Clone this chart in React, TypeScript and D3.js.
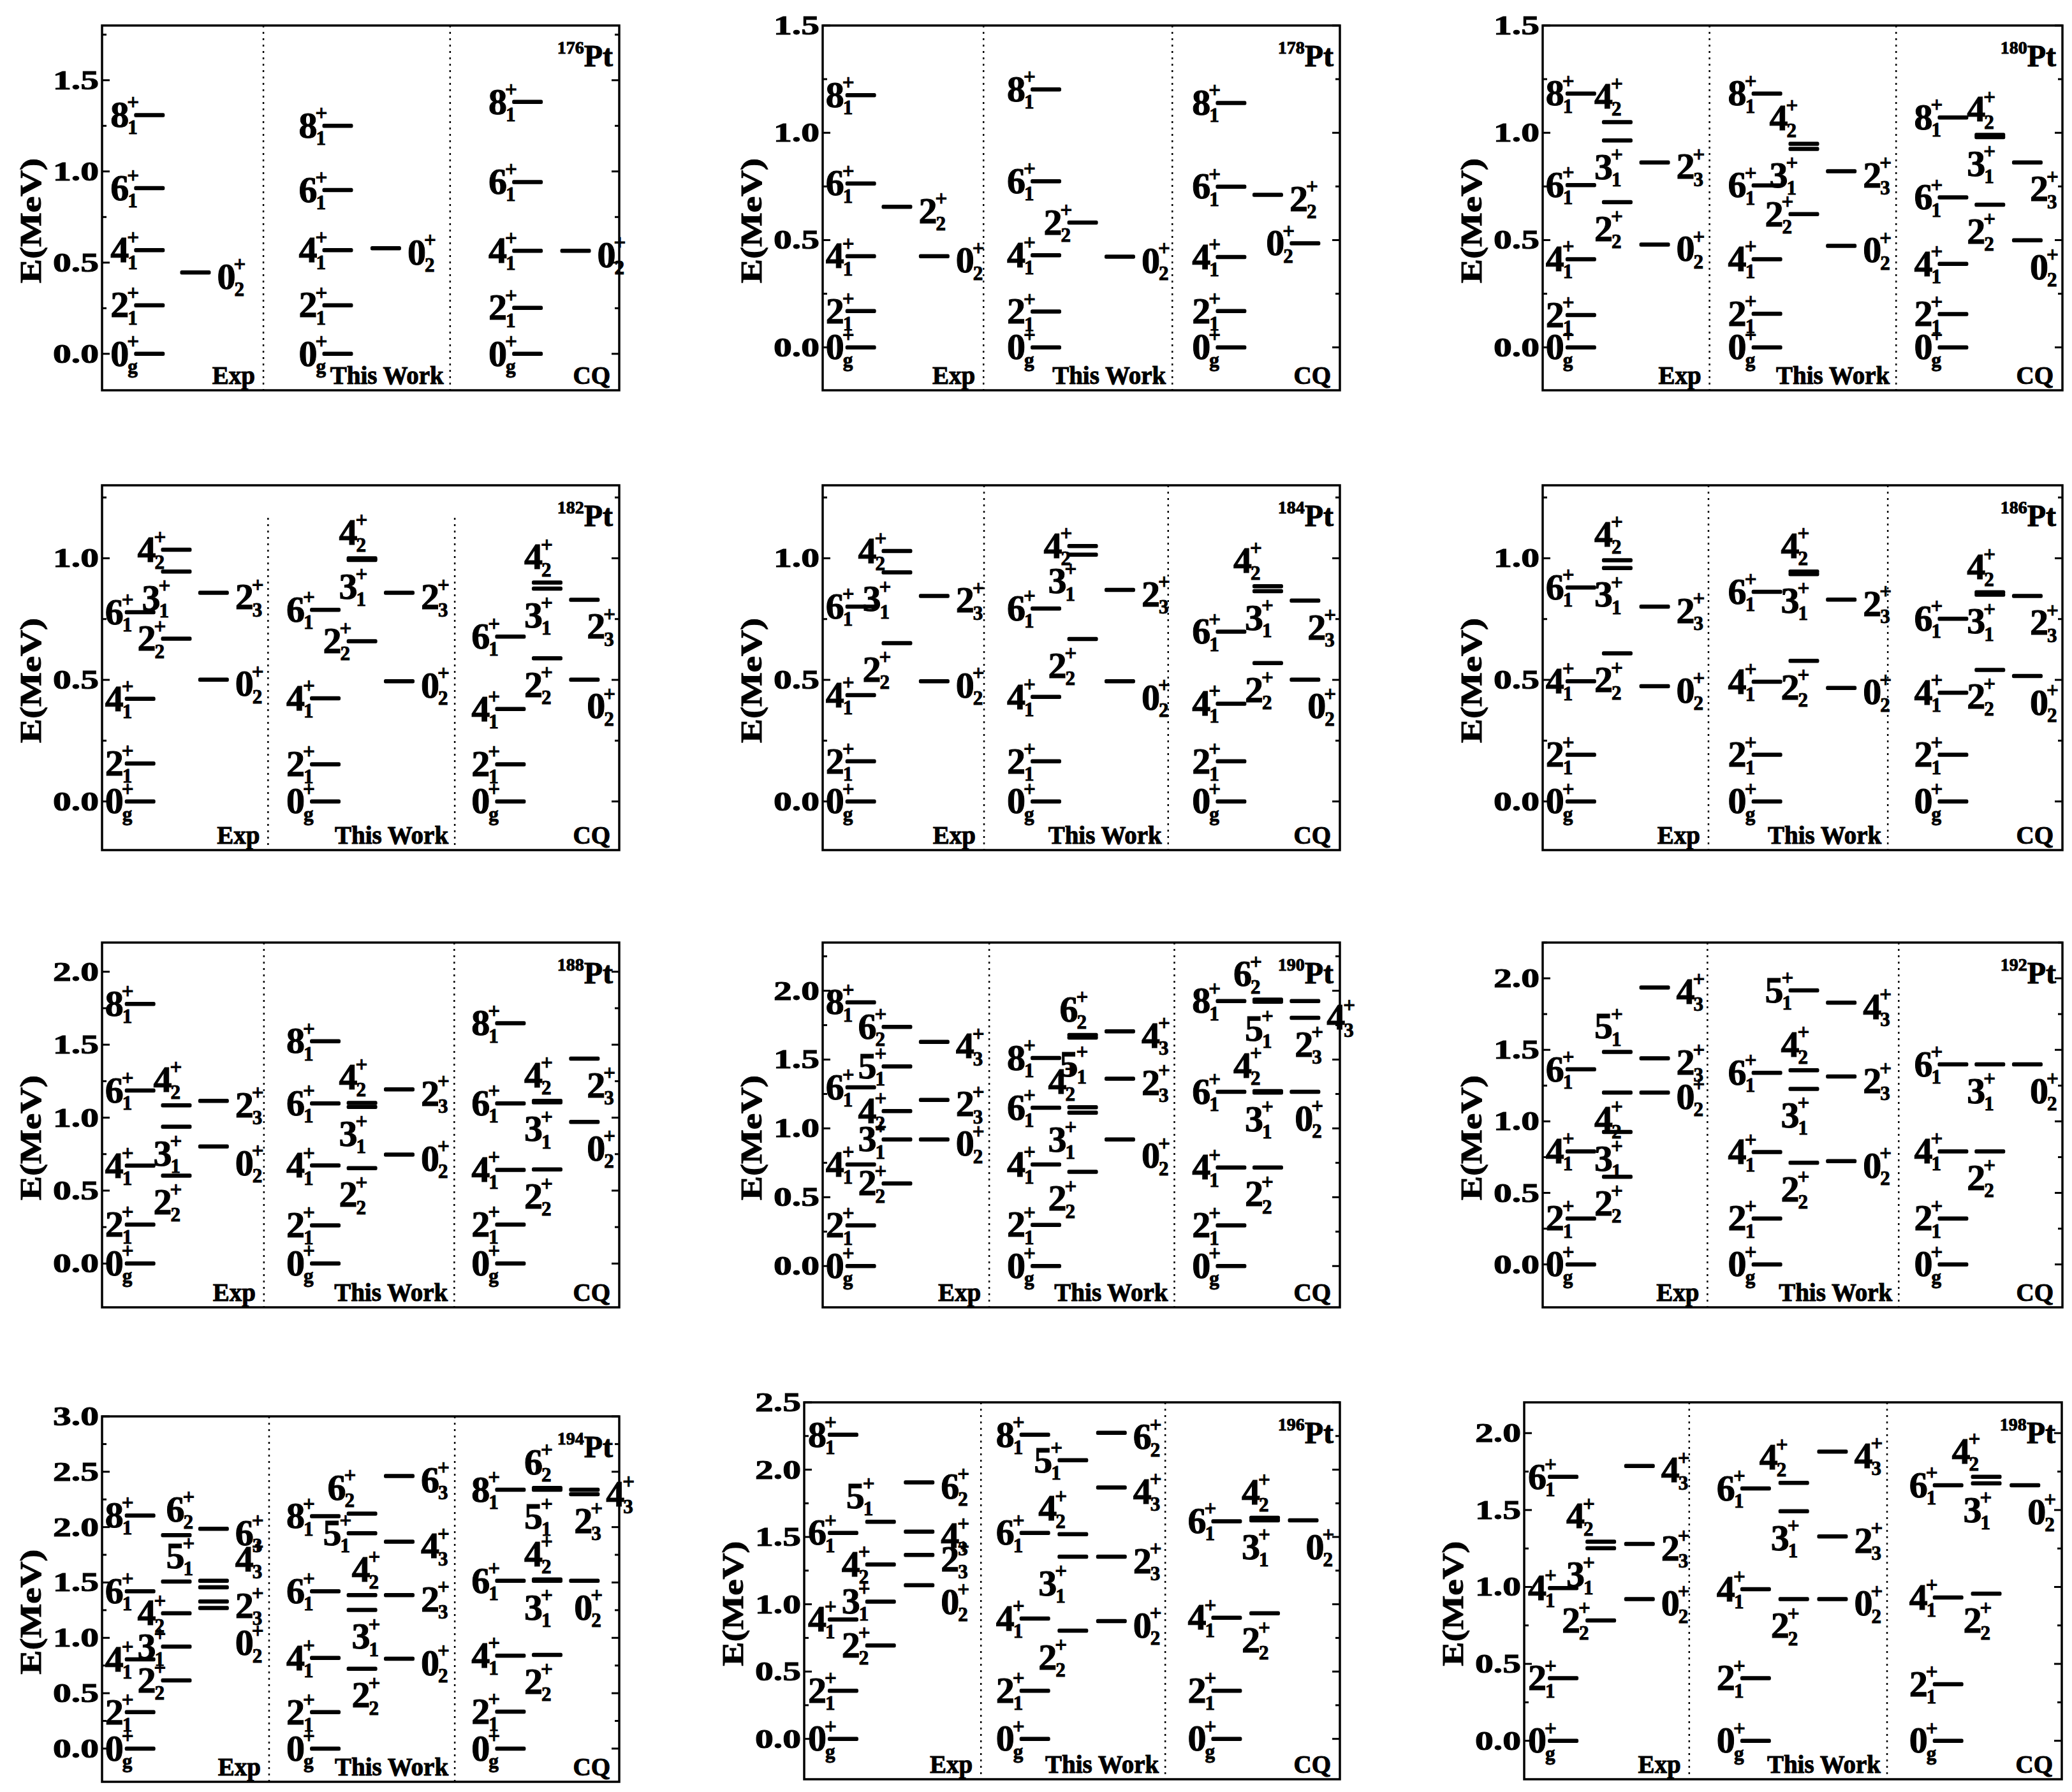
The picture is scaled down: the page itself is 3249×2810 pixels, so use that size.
import React from 'react';
import * as d3 from 'd3';

// [slot (section*3 + column), energy (MeV), J, subscript, label placement]
type Level = [number, number, string, string, string];

const NUCLEI = ['176', '178', '180', '182', '184', '186', '188', '190', '192', '194', '196', '198'];
const SECTIONS = ['Exp', 'This Work', 'CQ'];
const Y_DOMAINS: [number, number][] = [
  [-0.2, 1.8], [-0.2, 1.5], [-0.2, 1.5],
  [-0.2, 1.3], [-0.2, 1.3], [-0.2, 1.3],
  [-0.3, 2.2], [-0.3, 2.35], [-0.3, 2.25],
  [-0.3, 3.0], [-0.3, 2.5], [-0.25, 2.2],
];
const DIVIDERS: [number, number][] = [
  [0.312, 0.673], [0.311, 0.676], [0.321, 0.68],
  [0.321, 0.682], [0.312, 0.668], [0.319, 0.664],
  [0.313, 0.681], [0.322, 0.68], [0.317, 0.685],
  [0.323, 0.682], [0.33, 0.674], [0.307, 0.675],
];
const SLOTS = [0.044, 0.114, 0.186, 0.402, 0.473, 0.545, 0.76, 0.831, 0.903];
const SLOTS_176 = [0.062, 0.11, 0.151, 0.426, 0.47, 0.519, 0.793, 0.84, 0.886];

const PT176: Level[] = [
  [0, 0, '0', 'g', 'L'], [0, 0.266, '2', '1', 'L'], [0, 0.568, '4', '1', 'L'], [0, 0.908, '6', '1', 'L'], [0, 1.309, '8', '1', 'L'], [2, 0.446, '0', '2', 'R'],
  [3, 0, '0', 'g', 'L'], [3, 0.266, '2', '1', 'L'], [3, 0.568, '4', '1', 'L'], [3, 0.898, '6', '1', 'L'], [3, 1.25, '8', '1', 'L'], [5, 0.579, '0', '2', 'R'],
  [6, 0, '0', 'g', 'L'], [6, 0.252, '2', '1', 'L'], [6, 0.565, '4', '1', 'L'], [6, 0.942, '6', '1', 'L'], [6, 1.381, '8', '1', 'L'], [8, 0.565, '0', '2', 'R'],
];
const PT178: Level[] = [
  [0, 0, '0', 'g', 'L'], [0, 0.169, '2', '1', 'L'], [0, 0.425, '4', '1', 'L'], [0, 0.764, '6', '1', 'L'], [0, 1.175, '8', '1', 'L'], [1, 0.655, '2', '2', 'R'], [2, 0.425, '0', '2', 'R'],
  [3, 0, '0', 'g', 'L'], [3, 0.167, '2', '1', 'L'], [3, 0.429, '4', '1', 'L'], [3, 0.774, '6', '1', 'L'], [3, 1.202, '8', '1', 'L'], [4, 0.582, '2', '2', 'L'], [5, 0.423, '0', '2', 'R'],
  [6, 0, '0', 'g', 'L'], [6, 0.169, '2', '1', 'L'], [6, 0.421, '4', '1', 'L'], [6, 0.749, '6', '1', 'L'], [6, 1.139, '8', '1', 'L'], [7, 0.711, '2', '2', 'R'], [8, 0.485, '0', '2', 'L'],
];
const PT180: Level[] = [
  [0, 0, '0', 'g', 'L'], [0, 0.151, '2', '1', 'L'], [0, 0.411, '4', '1', 'L'], [0, 0.756, '6', '1', 'L'], [0, 1.183, '8', '1', 'L'],
  [1, 1.05, '4', '2', 'A'], [1, 0.964, '3', '1', 'B'], [1, 0.677, '2', '2', 'B'], [2, 0.862, '2', '3', 'R'], [2, 0.479, '0', '2', 'R'],
  [3, 0, '0', 'g', 'L'], [3, 0.157, '2', '1', 'L'], [3, 0.411, '4', '1', 'L'], [3, 0.755, '6', '1', 'L'], [3, 1.183, '8', '1', 'L'],
  [4, 0.949, '4', '2', 'A-'], [4, 0.925, '3', '1', 'B-'], [4, 0.621, '2', '2', 'L'], [5, 0.821, '2', '3', 'R'], [5, 0.473, '0', '2', 'R'],
  [6, 0, '0', 'g', 'L'], [6, 0.155, '2', '1', 'L'], [6, 0.389, '4', '1', 'L'], [6, 0.699, '6', '1', 'L'], [6, 1.071, '8', '1', 'L'],
  [7, 0.99, '4', '2', 'A'], [7, 0.98, '3', '1', 'B'], [7, 0.665, '2', '2', 'B'], [8, 0.862, '2', '3', 'B++'], [8, 0.499, '0', '2', 'B++'],
];
const PT182: Level[] = [
  [0, 0, '0', 'g', 'L'], [0, 0.156, '2', '1', 'L'], [0, 0.422, '4', '1', 'L'], [0, 0.778, '6', '1', 'L'],
  [1, 1.035, '4', '2', 'L'], [1, 0.945, '3', '1', 'B-'], [1, 0.669, '2', '2', 'L'], [2, 0.858, '2', '3', 'R'], [2, 0.501, '0', '2', 'R'],
  [3, 0, '0', 'g', 'L'], [3, 0.153, '2', '1', 'L'], [3, 0.424, '4', '1', 'L'], [3, 0.788, '6', '1', 'L'],
  [4, 1.0, '4', '2', 'A'], [4, 0.993, '3', '1', 'B'], [4, 0.659, '2', '2', 'L'], [5, 0.858, '2', '3', 'R'], [5, 0.494, '0', '2', 'R'],
  [6, 0, '0', 'g', 'L'], [6, 0.153, '2', '1', 'L'], [6, 0.38, '4', '1', 'L'], [6, 0.678, '6', '1', 'L'],
  [7, 0.9, '4', '2', 'A'], [7, 0.875, '3', '1', 'B'], [7, 0.589, '2', '2', 'B'], [8, 0.829, '2', '3', 'B++'], [8, 0.501, '0', '2', 'B++'],
];
const PT184: Level[] = [
  [0, 0, '0', 'g', 'L'], [0, 0.165, '2', '1', 'L'], [0, 0.437, '4', '1', 'L'], [0, 0.801, '6', '1', 'L'],
  [1, 1.03, '4', '2', 'L'], [1, 0.942, '3', '1', 'B-'], [1, 0.651, '2', '2', 'B-'], [2, 0.845, '2', '3', 'R'], [2, 0.494, '0', '2', 'R'],
  [3, 0, '0', 'g', 'L'], [3, 0.165, '2', '1', 'L'], [3, 0.43, '4', '1', 'L'], [3, 0.793, '6', '1', 'L'],
  [4, 1.05, '4', '2', 'L'], [4, 1.015, '3', '1', 'B-'], [4, 0.668, '2', '2', 'B-'], [5, 0.87, '2', '3', 'R'], [5, 0.494, '0', '2', 'RD'],
  [6, 0, '0', 'g', 'L'], [6, 0.165, '2', '1', 'L'], [6, 0.402, '4', '1', 'L'], [6, 0.698, '6', '1', 'L'],
  [7, 0.885, '4', '2', 'A-'], [7, 0.865, '3', '1', 'B'], [7, 0.569, '2', '2', 'B'], [8, 0.826, '2', '3', 'B++'], [8, 0.501, '0', '2', 'B++'],
];
const PT186: Level[] = [
  [0, 0, '0', 'g', 'L'], [0, 0.192, '2', '1', 'L'], [0, 0.494, '4', '1', 'L'], [0, 0.88, '6', '1', 'L'],
  [1, 0.992, '4', '2', 'A'], [1, 0.96, '3', '1', 'B'], [1, 0.609, '2', '2', 'B'], [2, 0.801, '2', '3', 'R'], [2, 0.474, '0', '2', 'R'],
  [3, 0, '0', 'g', 'L'], [3, 0.192, '2', '1', 'L'], [3, 0.492, '4', '1', 'L'], [3, 0.862, '6', '1', 'L'],
  [4, 0.945, '4', '2', 'A'], [4, 0.935, '3', '1', 'B'], [4, 0.578, '2', '2', 'B'], [5, 0.83, '2', '3', 'R'], [5, 0.467, '0', '2', 'R'],
  [6, 0, '0', 'g', 'L'], [6, 0.192, '2', '1', 'L'], [6, 0.447, '4', '1', 'L'], [6, 0.751, '6', '1', 'L'],
  [7, 0.86, '4', '2', 'A'], [7, 0.85, '3', '1', 'B'], [7, 0.541, '2', '2', 'B'], [8, 0.845, '2', '3', 'B++'], [8, 0.516, '0', '2', 'B++'],
];
const PT188: Level[] = [
  [0, 0, '0', 'g', 'L'], [0, 0.267, '2', '1', 'L'], [0, 0.671, '4', '1', 'L'], [0, 1.186, '6', '1', 'L'], [0, 1.779, '8', '1', 'L'],
  [1, 1.084, '4', '2', 'A'], [1, 0.938, '3', '1', 'B'], [1, 0.603, '2', '2', 'B'], [2, 1.115, '2', '3', 'R'], [2, 0.802, '0', '2', 'RD'],
  [3, 0, '0', 'g', 'L'], [3, 0.262, '2', '1', 'L'], [3, 0.672, '4', '1', 'L'], [3, 1.098, '6', '1', 'L'], [3, 1.524, '8', '1', 'L'],
  [4, 1.101, '4', '2', 'A'], [4, 1.073, '3', '1', 'B'], [4, 0.654, '2', '2', 'B'], [5, 1.194, '2', '3', 'R'], [5, 0.747, '0', '2', 'R'],
  [6, 0, '0', 'g', 'L'], [6, 0.267, '2', '1', 'L'], [6, 0.642, '4', '1', 'L'], [6, 1.098, '6', '1', 'L'], [6, 1.647, '8', '1', 'L'],
  [7, 1.115, '4', '2', 'A'], [7, 1.105, '3', '1', 'B'], [7, 0.645, '2', '2', 'B'], [8, 1.405, '2', '3', 'B++'], [8, 0.971, '0', '2', 'B++'],
];
const PT190: Level[] = [
  [0, 0, '0', 'g', 'L'], [0, 0.295, '2', '1', 'L'], [0, 0.738, '4', '1', 'L'], [0, 1.298, '6', '1', 'L'], [0, 1.916, '8', '1', 'L'],
  [1, 1.737, '6', '2', 'L'], [1, 1.45, '5', '1', 'L'], [1, 1.126, '4', '2', 'L'], [1, 0.92, '3', '1', 'L'], [1, 0.6, '2', '2', 'L'],
  [2, 1.629, '4', '3', 'R'], [2, 1.207, '2', '3', 'R'], [2, 0.92, '0', '2', 'R'],
  [3, 0, '0', 'g', 'L'], [3, 0.299, '2', '1', 'L'], [3, 0.738, '4', '1', 'L'], [3, 1.15, '6', '1', 'L'], [3, 1.511, '8', '1', 'L'],
  [4, 1.678, '6', '2', 'A'], [4, 1.66, '5', '1', 'B'], [4, 1.153, '4', '2', 'A-'], [4, 1.114, '3', '1', 'B-'], [4, 0.684, '2', '2', 'B-'],
  [5, 1.705, '4', '3', 'R'], [5, 1.361, '2', '3', 'R'], [5, 0.92, '0', '2', 'RD'],
  [6, 0, '0', 'g', 'L'], [6, 0.295, '2', '1', 'L'], [6, 0.716, '4', '1', 'L'], [6, 1.266, '6', '1', 'L'], [6, 1.925, '8', '1', 'L'],
  [7, 1.935, '6', '2', 'A-'], [7, 1.92, '5', '1', 'B'], [7, 1.27, '4', '2', 'A-'], [7, 1.26, '3', '1', 'B'], [7, 0.716, '2', '2', 'B'],
  [8, 1.925, '4', '3', 'RD'], [8, 1.803, '2', '3', 'B+'], [8, 1.266, '0', '2', 'B+'],
];
const PT192: Level[] = [
  [0, 0, '0', 'g', 'L'], [0, 0.321, '2', '1', 'L'], [0, 0.79, '4', '1', 'L'], [0, 1.364, '6', '1', 'L'],
  [1, 1.485, '5', '1', 'A'], [1, 1.201, '4', '2', 'B'], [1, 0.926, '3', '1', 'B'], [1, 0.613, '2', '2', 'B'],
  [2, 1.936, '4', '3', 'R'], [2, 1.441, '2', '3', 'R'], [2, 1.201, '0', '2', 'R'],
  [3, 0, '0', 'g', 'L'], [3, 0.321, '2', '1', 'L'], [3, 0.785, '4', '1', 'L'], [3, 1.34, '6', '1', 'L'],
  [4, 1.916, '5', '1', 'L'], [4, 1.357, '4', '2', 'A'], [4, 1.227, '3', '1', 'B'], [4, 0.711, '2', '2', 'B'],
  [5, 1.83, '4', '3', 'R'], [5, 1.314, '2', '3', 'R'], [5, 0.722, '0', '2', 'R'],
  [6, 0, '0', 'g', 'L'], [6, 0.321, '2', '1', 'L'], [6, 0.79, '4', '1', 'L'], [6, 1.399, '6', '1', 'L'],
  [7, 1.399, '3', '1', 'B'], [7, 0.79, '2', '2', 'B'], [8, 1.399, '0', '2', 'B++'],
];
const PT194: Level[] = [
  [0, 0, '0', 'g', 'L'], [0, 0.329, '2', '1', 'L'], [0, 0.806, '4', '1', 'L'], [0, 1.421, '6', '1', 'L'], [0, 2.105, '8', '1', 'L'],
  [1, 1.927, '6', '2', 'A+'], [1, 1.508, '5', '1', 'A+'], [1, 1.222, '4', '2', 'L'], [1, 0.921, '3', '1', 'L'], [1, 0.616, '2', '2', 'L'],
  [2, 1.985, '6', '3', 'R'], [2, 1.515, '4', '3', 'RU'], [2, 1.457, '', '', ''], [2, 1.328, '2', '3', 'R'], [2, 1.269, '0', '2', 'RDD'],
  [3, 0, '0', 'g', 'L'], [3, 0.329, '2', '1', 'L'], [3, 0.818, '4', '1', 'L'], [3, 1.421, '6', '1', 'L'], [3, 2.098, '8', '1', 'L'],
  [4, 2.122, '6', '2', 'A-'], [4, 1.945, '5', '1', 'L'], [4, 1.386, '4', '2', 'A+'], [4, 1.252, '3', '1', 'B+'], [4, 0.721, '2', '2', 'B+'],
  [5, 2.462, '6', '3', 'R'], [5, 1.868, '4', '3', 'R'], [5, 1.386, '2', '3', 'R'], [5, 0.811, '0', '2', 'R'],
  [6, 0, '0', 'g', 'L'], [6, 0.334, '2', '1', 'L'], [6, 0.839, '4', '1', 'L'], [6, 1.515, '6', '1', 'L'], [6, 2.338, '8', '1', 'L'],
  [7, 2.354, '6', '2', 'A'], [7, 2.338, '5', '1', 'B'], [7, 1.527, '4', '2', 'A'], [7, 1.515, '3', '1', 'B'], [7, 0.846, '2', '2', 'B'],
  [8, 2.338, '4', '3', 'R'], [8, 2.298, '2', '3', 'B+'], [8, 1.515, '0', '2', 'B+'],
];
const PT196: Level[] = [
  [0, 0, '0', 'g', 'L'], [0, 0.357, '2', '1', 'L'], [0, 0.887, '4', '1', 'L'], [0, 1.53, '6', '1', 'L'], [0, 2.259, '8', '1', 'L'],
  [1, 1.613, '5', '1', 'A-'], [1, 1.295, '4', '2', 'L'], [1, 1.02, '3', '1', 'L'], [1, 0.694, '2', '2', 'L'],
  [2, 1.906, '6', '2', 'R'], [2, 1.54, '4', '3', 'R'], [2, 1.367, '2', '3', 'R'], [2, 1.141, '0', '2', 'RD'],
  [3, 0, '0', 'g', 'L'], [3, 0.357, '2', '1', 'L'], [3, 0.894, '4', '1', 'L'], [3, 1.53, '6', '1', 'L'], [3, 2.259, '8', '1', 'L'],
  [4, 2.07, '5', '1', 'L'], [4, 1.521, '4', '2', 'A-'], [4, 1.353, '3', '1', 'B-'], [4, 0.804, '2', '2', 'B-'],
  [5, 2.274, '6', '2', 'R'], [5, 1.868, '4', '3', 'R'], [5, 1.353, '2', '3', 'R'], [5, 0.875, '0', '2', 'R'],
  [6, 0, '0', 'g', 'L'], [6, 0.357, '2', '1', 'L'], [6, 0.9, '4', '1', 'L'], [6, 1.617, '6', '1', 'L'],
  [7, 1.642, '4', '2', 'A'], [7, 1.623, '3', '1', 'B'], [7, 0.933, '2', '2', 'B'], [8, 1.623, '0', '2', 'B++'],
];
const PT198: Level[] = [
  [0, 0, '0', 'g', 'L'], [0, 0.407, '2', '1', 'L'], [0, 0.993, '4', '1', 'L'], [0, 1.716, '6', '1', 'L'],
  [1, 1.294, '4', '2', 'A-'], [1, 1.252, '3', '1', 'B-'], [1, 0.782, '2', '2', 'L'],
  [2, 1.787, '4', '3', 'R'], [2, 1.28, '2', '3', 'R'], [2, 0.921, '0', '2', 'R'],
  [3, 0, '0', 'g', 'L'], [3, 0.407, '2', '1', 'L'], [3, 0.985, '4', '1', 'L'], [3, 1.64, '6', '1', 'L'],
  [4, 1.677, '4', '2', 'A-'], [4, 1.492, '3', '1', 'B'], [4, 0.921, '2', '2', 'B'],
  [5, 1.88, '4', '3', 'R'], [5, 1.328, '2', '3', 'R'], [5, 0.921, '0', '2', 'R'],
  [6, 0, '0', 'g', 'L'], [6, 0.368, '2', '1', 'L'], [6, 0.931, '4', '1', 'L'], [6, 1.661, '6', '1', 'L'],
  [7, 1.716, '4', '2', 'A-'], [7, 1.674, '3', '1', 'B'], [7, 0.956, '2', '2', 'B'], [8, 1.661, '0', '2', 'B++'],
];

const LEVELS: Level[][] = [PT176, PT178, PT180, PT182, PT184, PT186, PT188, PT190, PT192, PT194, PT196, PT198];

const FONT = "'Liberation Serif', 'Times New Roman', Times, serif";
const BAR_W = 48;
const BAR_H = 6.5;
const DIG = 56;
const DIG_W = 30;
const SCR = 33;

function panelBox(i: number) {
  const r = Math.floor(i / 3);
  const c = i % 3;
  const xs = [160, 1290, 2419];
  const ys = [40, 761, 1478, 2199];
  let x = xs[c];
  let y = ys[r];
  let w = c === 2 ? 815 : 811;
  let h = 572;
  if (i === 9) { y = 2221; h = 573; }
  if (i === 10) { x = 1261; w = 840; y = 2199; h = 591; }
  if (i === 11) { x = 2390; w = 843; y = 2199; h = 591; }
  return { x, y, w, h };
}

const DX: Record<string, number> = { '-': -30, '': -12, '+': 8, '++': 28 };

function LevelLabel({ bl, br, by, J, sub, code, tight }: { bl: number; br: number; by: number; J: string; sub: string; code: string; tight: boolean }) {
  if (!J) return null;
  let digLeft: number;
  let cy: number;
  if (code === 'L') {
    digLeft = bl - (tight ? 1 : 7) - DIG_W;
    cy = by;
  } else if (code[0] === 'R') {
    digLeft = br + 10;
    cy = by + (code === 'RU' ? -34 : code === 'RD' ? 26 : code === 'RDD' ? 55 : 7);
  } else {
    digLeft = bl + DX[code.slice(1)];
    cy = by + (code[0] === 'A' ? -40 : 42);
  }
  const sx = digLeft + DIG_W - 4;
  return (
    <g>
      <text x={digLeft} y={cy + DIG * 0.335} fontSize={DIG} textLength={DIG_W - 1} lengthAdjust="spacingAndGlyphs">{J}</text>
      <text x={sx} y={cy - 9} fontSize={SCR}>+</text>
      <text x={sx + 1} y={cy + 30} fontSize={SCR - 2}>{sub}</text>
    </g>
  );
}

function Panel({ i }: { i: number }) {
  const b = panelBox(i);
  const [lo, hi] = Y_DOMAINS[i];
  const y = d3.scaleLinear().domain([lo, hi]).range([b.y + b.h, b.y]);
  const x = d3.scaleLinear().domain([0, 1]).range([b.x, b.x + b.w]);
  const slots = i === 0 ? SLOTS_176 : SLOTS;
  const ticks = d3.range(0, hi + 1e-6, 0.25);
  const fmt = d3.format('.1f');
  const [d1, d2] = DIVIDERS[i];
  const x1 = b.x + b.w;
  const yb = b.y + b.h;
  const isMajor = (t: number) => Math.abs(t * 2 - Math.round(t * 2)) < 1e-6;
  const secRight = [x(d1) - 13, x(d2) - 10, x1 - 14];
  const divTop = i === 3 ? b.y + 51 : b.y;
  return (
    <g>
      {ticks.map((t) => {
        const ty = y(t);
        const L = isMajor(t) ? 12 : 7;
        return (
          <g key={t}>
            <line x1={b.x} x2={b.x + L} y1={ty} y2={ty} stroke="#000" strokeWidth={3} />
            <line x1={x1} x2={x1 - L} y1={ty} y2={ty} stroke="#000" strokeWidth={3} />
            {isMajor(t) && (
              <text x={b.x - 77} y={ty + 14} fontSize={42} textLength={72} lengthAdjust="spacingAndGlyphs">{fmt(t)}</text>
            )}
          </g>
        );
      })}
      <line x1={x(d1)} x2={x(d1)} y1={divTop} y2={yb} stroke="#000" strokeWidth={2.5} strokeDasharray="3,7" />
      <line x1={x(d2)} x2={x(d2)} y1={divTop} y2={yb} stroke="#000" strokeWidth={2.5} strokeDasharray="3,7" />
      <rect x={b.x} y={b.y} width={b.w} height={b.h} fill="none" stroke="#000" strokeWidth={3.5} />
      <g transform={`translate(${b.x - 96},${b.y + b.h / 2 + 20}) rotate(-90)`}>
        <text x={-98} y={0} fontSize={47} textLength={196} lengthAdjust="spacingAndGlyphs">E(MeV)</text>
      </g>
      <text x={x1 - 10} y={b.y + 64} textAnchor="end">
        <tspan fontSize={28} dy={-20}>{NUCLEI[i]}</tspan>
        <tspan fontSize={48} dy={20}>Pt</tspan>
      </text>
      {SECTIONS.map((s, k) => (
        <text key={s} x={secRight[k]} y={yb - 10} fontSize={39} textAnchor="end">{s}</text>
      ))}
      {LEVELS[i].map((lv, k) => {
        const [slot, e, J, sub, code] = lv;
        const bl = x(slots[slot]);
        const by = y(e);
        return (
          <g key={k}>
            <rect x={bl} y={by - BAR_H / 2} width={BAR_W} height={BAR_H} rx={2.5} fill="#000" />
            <LevelLabel bl={bl} br={bl + BAR_W} by={by} J={J} sub={sub} code={code} tight={slot === 0 && i !== 0} />
          </g>
        );
      })}
    </g>
  );
}

export default function App() {
  const W = 3249;
  const H = 2810;
  return (
    <svg
      width={W}
      height={H}
      viewBox={`0 0 ${W} ${H}`}
      style={{ position: 'absolute', left: 0, top: 0, display: 'block', background: '#fff' }}
      fontFamily={FONT}
      fontWeight="bold"
    >
      <style>{'text { stroke: #000; stroke-width: 1px; fill: #000; }'}</style>
      <rect width={W} height={H} fill="#fff" />
      {NUCLEI.map((n, i) => (
        <Panel key={n} i={i} />
      ))}
    </svg>
  );
}
